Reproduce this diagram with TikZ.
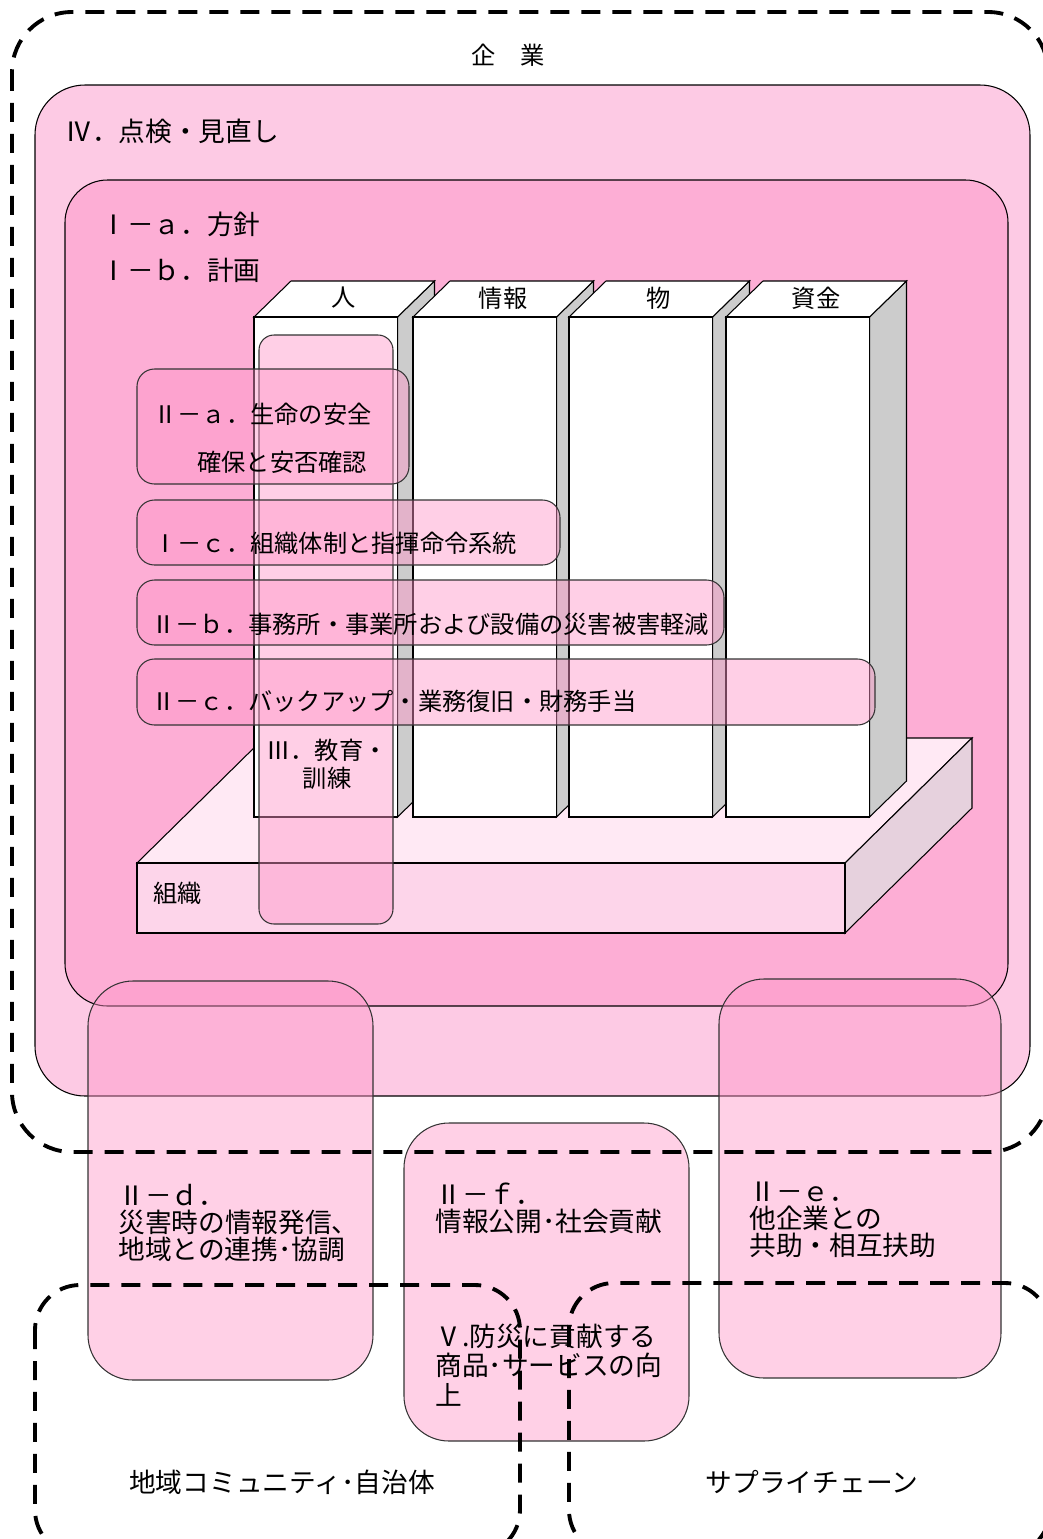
\documentclass[tikz,border=0pt]{standalone}
\usepackage{fontspec}
\setmainfont{Noto Sans CJK JP}

\definecolor{outerpink}{RGB}{253,202,228}
\definecolor{innerpink}{RGB}{253,174,213}
\definecolor{overpink}{RGB}{255,150,200}
\definecolor{sidegray}{RGB}{204,204,204}
\definecolor{slabtop}{RGB}{255,233,244}
\definecolor{slabfront}{RGB}{253,213,234}
\definecolor{slabside}{RGB}{230,209,221}

\tikzset{
    dashframe/.style={line width=2.2pt, dash pattern=on 0.38cm off 0.24cm, rounded corners=1.2cm},
    overbox/.style={line width=0.6pt, draw=black!80, fill=overpink, fill opacity=0.45},
    txt/.style={inner sep=0, font=\fontsize{13.8}{15.9}\selectfont},
    bigtxt/.style={inner sep=0, font=\fontsize{15.2}{15.4}\selectfont}
}

\begin{document}
\begin{tikzpicture}[x=0.02cm, y=-0.02cm]
        \useasboundingbox (0,0) rectangle (1043,1539);
        \clip (0,0) rectangle (1043,1539);

        % Frames:
        \draw[line width=0.6pt, fill=outerpink, rounded corners=1cm] (35,85) rectangle (1030,1096);
        \draw[line width=0.6pt, fill=innerpink, rounded corners=0.85cm] (65,180) rectangle (1008,1006);

        % Platform:
        \draw[line width=0.6pt, fill=slabtop] (137,863) -- (264,738) -- (972,738) -- (845,863) -- cycle;
        \draw[line width=0.6pt, fill=slabside] (845,863) -- (972,738) -- (972,808) -- (845,933) -- cycle;
        \draw[line width=0.6pt, fill=slabfront] (137,863) rectangle (845,933);

        % Pillars:
        \foreach \x/\name/\word in {254/hito/人, 413/joho/情報, 569/mono/物, 726/shikin/資金} {
            \draw[line width=0.6pt, fill=sidegray] (\x+143.5,317) -- (\x+180.5,281) -- (\x+180.5,781) -- (\x+143.5,817) -- cycle;
            \draw[line width=0.6pt, fill=white] (\x,317) -- (\x+37,281) -- (\x+180.5,281) -- (\x+143.5,317) -- cycle;
            \draw[line width=0.6pt, fill=white] (\x,317) rectangle (\x+143.5,817);
            \node[txt] (\name) at (\x+90,298) {\word};
        }

        % Measures inside:
        \draw[overbox, rounded corners=0.3cm] (259,335) rectangle (393,924);
        \draw[overbox, rounded corners=0.35cm] (137,369) rectangle (409,484);
        \draw[overbox, rounded corners=0.35cm] (137,500) rectangle (560,565);
        \draw[overbox, rounded corners=0.35cm] (137,580) rectangle (724,645);
        \draw[overbox, rounded corners=0.35cm] (137,659) rectangle (875,725);

        % Measures outside:
        \draw[overbox, rounded corners=0.9cm] (88,981) rectangle (373,1380);
        \draw[overbox, rounded corners=0.9cm] (719,979) rectangle (1001,1378);
        \draw[overbox, rounded corners=0.9cm] (404,1123) rectangle (689,1441);

        % Labels:
        \node[txt] (kigyo) at (508,55) {企　業};
        \node[bigtxt, anchor=west] (tenken) at (65,131) {Ⅳ．点検・見直し};
        \node[bigtxt, anchor=west] (hoshin) at (100,224) {Ⅰ－ａ．方針};
        \node[bigtxt, anchor=west] (keikaku) at (100,270) {Ⅰ－ｂ．計画};
        \node[txt, anchor=west] (anzen) at (153,414) {Ⅱ－ａ．生命の安全};
        \node[txt, anchor=west] (anpi) at (197,462) {確保と安否確認};
        \node[txt, anchor=west] (taisei) at (153,543) {Ⅰ－ｃ．組織体制と指揮命令系統};
        \node[txt, anchor=west] (keigen) at (151,624) {Ⅱ－ｂ．事務所・事業所および設備の災害被害軽減};
        \node[txt, anchor=west] (backup) at (151,701) {Ⅱ－ｃ．バックアップ・業務復旧・財務手当};
        \node[txt, align=center] (kunren) at (327,764) {Ⅲ．教育・\\訓練};
        \node[txt, anchor=west] (soshiki) at (153,893) {組織};
        \node[bigtxt, anchor=west, align=left] (hasshin) at (118,1223) {Ⅱ－ｄ．\\災害時の情報発信、\\地域との連携･協調};
        \node[bigtxt, anchor=west, align=left] (kokai) at (435,1208) {Ⅱ－ｆ．\\情報公開･社会貢献};
        \node[bigtxt, anchor=west, align=left, font=\fontsize{15.2}{16.8}\selectfont] (shohin) at (435,1365) {Ⅴ.防災に貢献する\\商品･サービスの向\\上};
        \node[bigtxt, anchor=west, align=left] (kyojo) at (749,1220) {Ⅱ－ｅ．\\他企業との\\共助・相互扶助};
        \node[bigtxt] (chiiki) at (282,1482) {地域コミュニティ･自治体};
        \node[bigtxt] (supply) at (812,1482) {サプライチェーン};

        % Dashed frames:
        \draw[dashframe] (12,12) rectangle (1048,1152);
        \draw[dashframe, rounded corners=0.9cm] (35,1285) rectangle (520,1555);
        \draw[dashframe, rounded corners=0.9cm] (569,1283) rectangle (1050,1555);
\end{tikzpicture}
\end{document}
